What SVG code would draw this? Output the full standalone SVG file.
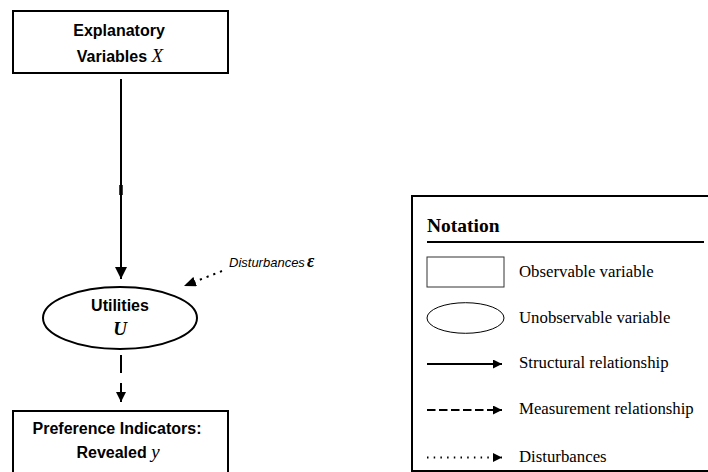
<svg xmlns="http://www.w3.org/2000/svg" width="708" height="472" viewBox="0 0 708 472">
  <style>
    .node { fill: #fff; stroke: #000; stroke-width: 2; }
    .lbl { font-family: "Liberation Sans", Arial, sans-serif; font-weight: bold; font-size: 16px; fill: #000; text-anchor: middle; }
    .var { font-family: "Liberation Serif", "Times New Roman", serif; font-style: italic; font-size: 19px; }
    .leg { font-family: "Liberation Serif", "Times New Roman", serif; font-size: 16.8px; fill: #000; }
    .edge { fill: none; stroke: #000; stroke-width: 2; }
  </style>
  <defs>
    <marker id="headL" markerUnits="userSpaceOnUse" markerWidth="12" markerHeight="12" refX="12" refY="6" orient="auto">
      <path d="M0,0 L12,6 L0,12 z" fill="#000"/>
    </marker>
    <marker id="headM" markerUnits="userSpaceOnUse" markerWidth="10" markerHeight="10" refX="10" refY="5" orient="auto">
      <path d="M0,0 L10,5 L0,10 z" fill="#000"/>
    </marker>
    <marker id="headD" markerUnits="userSpaceOnUse" markerWidth="12" markerHeight="10" refX="12" refY="5" orient="auto">
      <path d="M0,0 L12,5 L0,10 z" fill="#000"/>
    </marker>
    <marker id="headS" markerUnits="userSpaceOnUse" markerWidth="9" markerHeight="9" refX="9" refY="4.5" orient="auto">
      <path d="M0,0 L9,4.5 L0,9 z" fill="#000"/>
    </marker>
  </defs>

  <g id="connectors">
    <!-- X to U: structural -->
    <line class="edge" x1="121" y1="79" x2="121" y2="279" marker-end="url(#headL)"/>
    <line x1="121" y1="185" x2="121" y2="195" stroke="#000" stroke-width="3.5"/>
    <!-- U to y: measurement -->
    <line class="edge" x1="121" y1="355" x2="121" y2="402" stroke-dasharray="18 10 40" marker-end="url(#headM)"/>
    <!-- disturbance into U -->
    <line class="edge" x1="222" y1="271" x2="184" y2="286" stroke-width="1.8" stroke-dasharray="2.2 5" marker-end="url(#headD)"/>
  </g>

  <g id="node-x">
    <rect class="node" x="13" y="11" width="215" height="62"/>
    <text class="lbl" x="119" y="36">Explanatory</text>
    <text class="lbl" x="120" y="62">Variables <tspan class="var" font-weight="normal">X</tspan></text>
  </g>

  <g id="node-u">
    <ellipse class="node" cx="120" cy="318" rx="77" ry="31"/>
    <text class="lbl" x="120" y="311">Utilities</text>
    <text class="lbl var" x="120" y="335" font-weight="bold">U</text>
  </g>

  <g id="node-y">
    <rect class="node" x="13" y="411" width="215" height="64"/>
    <text class="lbl" x="117" y="434">Preference Indicators:</text>
    <text class="lbl" x="118" y="458">Revealed <tspan class="var" font-weight="normal">y</tspan></text>
  </g>

  <g id="disturbance-label">
    <text x="229" y="267" font-family="'Liberation Sans', Arial, sans-serif" font-style="italic" font-size="13px" fill="#000">Disturbances<tspan font-family="'Liberation Serif', 'Times New Roman', serif" font-weight="bold" font-size="18px" dx="2">ε</tspan></text>
  </g>

  <g id="notation">
    <rect x="412" y="196" width="300" height="275" fill="none" stroke="#000" stroke-width="2"/>
    <text x="427" y="232" font-family="'Liberation Serif', 'Times New Roman', serif" font-weight="bold" font-size="19.5px" fill="#000">Notation</text>
    <line x1="427" y1="242" x2="704" y2="242" stroke="#000" stroke-width="2"/>

    <rect x="427" y="257" width="77" height="30" fill="#fff" stroke="#333" stroke-width="1"/>
    <text class="leg" x="519" y="277">Observable variable</text>

    <ellipse cx="465.5" cy="318" rx="38.5" ry="15.3" fill="#fff" stroke="#000" stroke-width="1"/>
    <text class="leg" x="519" y="323">Unobservable variable</text>

    <line class="edge" x1="427" y1="364" x2="502" y2="364" marker-end="url(#headS)"/>
    <text class="leg" x="519" y="368">Structural relationship</text>

    <line class="edge" x1="427" y1="410" x2="502" y2="410" stroke-dasharray="8.5 3.5" marker-end="url(#headS)"/>
    <text class="leg" x="519" y="414">Measurement relationship</text>

    <line class="edge" x1="427" y1="457.5" x2="502" y2="457.5" stroke-width="1.5" stroke-dasharray="1.5 5.2" marker-end="url(#headS)"/>
    <text class="leg" x="519" y="462">Disturbances</text>
  </g>
</svg>
